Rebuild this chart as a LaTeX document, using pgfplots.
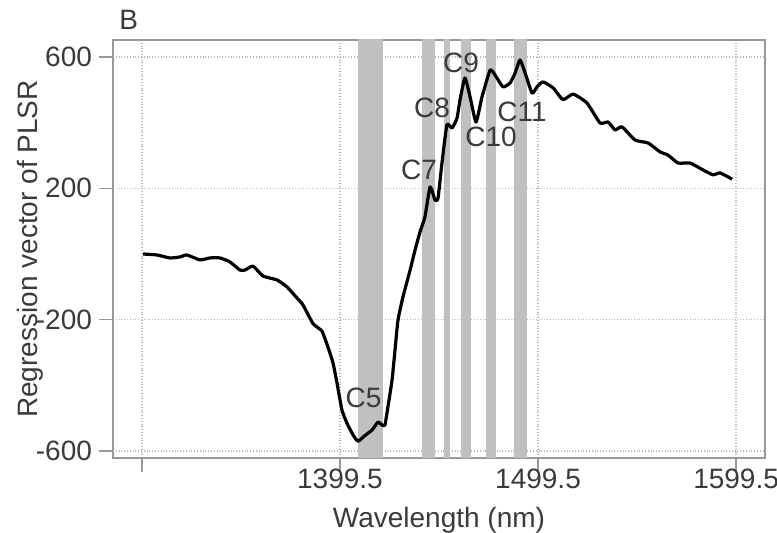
\documentclass[border=0pt]{standalone}
\usepackage{fontspec}
\setmainfont{Liberation Sans}
\usepackage{pgfplots}
\pgfplotsset{compat=1.18}
\definecolor{txt}{HTML}{3A3A3A}
\definecolor{band}{HTML}{C0C0C0}
\begin{document}
\begin{tikzpicture}[font=\fontsize{14}{16}\selectfont, text=txt]
\begin{axis}[
  scale only axis, width=326pt, height=209pt,
  xmin=1284.9, xmax=1614.1, ymin=-621.3, ymax=651.8,
  xtick={1299.5,1399.5,1499.5,1599.5},
  xticklabels={,1399.5,1499.5,1599.5},
  ytick={-600,-200,200,600},
  yticklabels={-600,-200,200,600},
  tick align=outside, major tick length=7pt, tick pos=left,
  tick style={gray!80, line width=0.6pt},
  axis line style={gray!80, line width=0.8pt},
  grid=major, grid style={densely dotted, gray!55, line width=0.6pt},
  ticklabel style={font=\fontsize{14}{16}\selectfont, text=txt},
  xticklabel style={yshift=5pt},
  xlabel={Wavelength (nm)}, ylabel={Regression vector of PLSR},
  every axis x label/.style={at={(axis description cs:0.5,-0.148)}, anchor=center, text=txt},
  every axis y label/.style={at={(axis description cs:-0.127,0.5)}, rotate=90, anchor=center, text=txt},
]
% shaded bands
\addplot[fill=band, draw=none, forget plot] coordinates {(1408.4,-700) (1421.4,-700) (1421.4,700) (1408.4,700)} -- cycle;
\addplot[fill=band, draw=none, forget plot] coordinates {(1440.8,-700) (1447.5,-700) (1447.5,700) (1440.8,700)} -- cycle;
\addplot[fill=band, draw=none, forget plot] coordinates {(1452.2,-700) (1455.1,-700) (1455.1,700) (1452.2,700)} -- cycle;
\addplot[fill=band, draw=none, forget plot] coordinates {(1460.5,-700) (1465.5,-700) (1465.5,700) (1460.5,700)} -- cycle;
\addplot[fill=band, draw=none, forget plot] coordinates {(1473.2,-700) (1478.3,-700) (1478.3,700) (1473.2,700)} -- cycle;
\addplot[fill=band, draw=none, forget plot] coordinates {(1487.4,-700) (1494.1,-700) (1494.1,700) (1487.4,700)} -- cycle;
% regression vector
\addplot[black, line width=1.6pt, line join=round, smooth, tension=0.3] coordinates {
(1300.0,0) (1307.1,-3) (1313.6,-12) (1318.7,-9) (1322.2,-3) (1328.8,-18)
(1333.8,-12) (1338.9,-12) (1343.9,-24) (1349.0,-49) (1351.5,-49) (1355.6,-37)
(1360.6,-67) (1367.7,-79) (1372.7,-100) (1377.8,-134) (1380.8,-155) (1385.9,-212)
(1390.4,-235) (1393.4,-283) (1396.0,-332) (1398.0,-393) (1400.5,-475) (1403.0,-515)
(1406.1,-551) (1408.6,-570) (1412.1,-553) (1415.7,-536) (1418.7,-512) (1420.7,-521)
(1422.2,-521) (1423.7,-466) (1425.8,-384) (1427.3,-292) (1428.8,-201) (1431.3,-131)
(1434.9,-49) (1437.4,12) (1439.9,67) (1442.4,113) (1445.0,204) (1447.5,164)
(1449.0,170) (1451.0,277) (1453.5,393) (1456.1,384) (1458.6,414) (1460.1,469)
(1462.6,536) (1465.2,478) (1468.2,402) (1471.2,478) (1475.3,560) (1477.8,545)
(1481.8,509) (1485.4,521) (1487.9,551) (1490.4,591) (1493.0,551) (1496.5,490)
(1499.0,509) (1502.0,524) (1507.1,506) (1512.1,470) (1517.2,487) (1524.2,460)
(1530.8,399) (1534.9,402) (1538.4,378) (1541.9,387) (1548.5,347) (1555.1,338)
(1561.1,311) (1565.2,301) (1570.2,277) (1576.3,277) (1582.8,256) (1587.9,241)
(1591.4,247) (1597.5,228)
};
\node[text=txt] at (axis cs:1411.4,-439) {C5};
\node[text=txt] at (axis cs:1439.4,256) {C7};
\node[text=txt] at (axis cs:1446.0,445) {C8};
\node[text=txt] at (axis cs:1460.6,582) {C9};
\node[text=txt] at (axis cs:1475.8,356) {C10};
\node[text=txt] at (axis cs:1491.4,432) {C11};
\coordinate (sw) at (rel axis cs:0,0);
\coordinate (nw) at (rel axis cs:0,1);
\end{axis}
\node[text=txt, anchor=base west, inner sep=0pt] at ([xshift=3pt, yshift=5pt]nw) {B};
\pgfresetboundingbox
\path (sw) ++(-56.5pt,-37.5pt) rectangle ++(388.5pt,266.5pt);
\end{tikzpicture}
\end{document}
